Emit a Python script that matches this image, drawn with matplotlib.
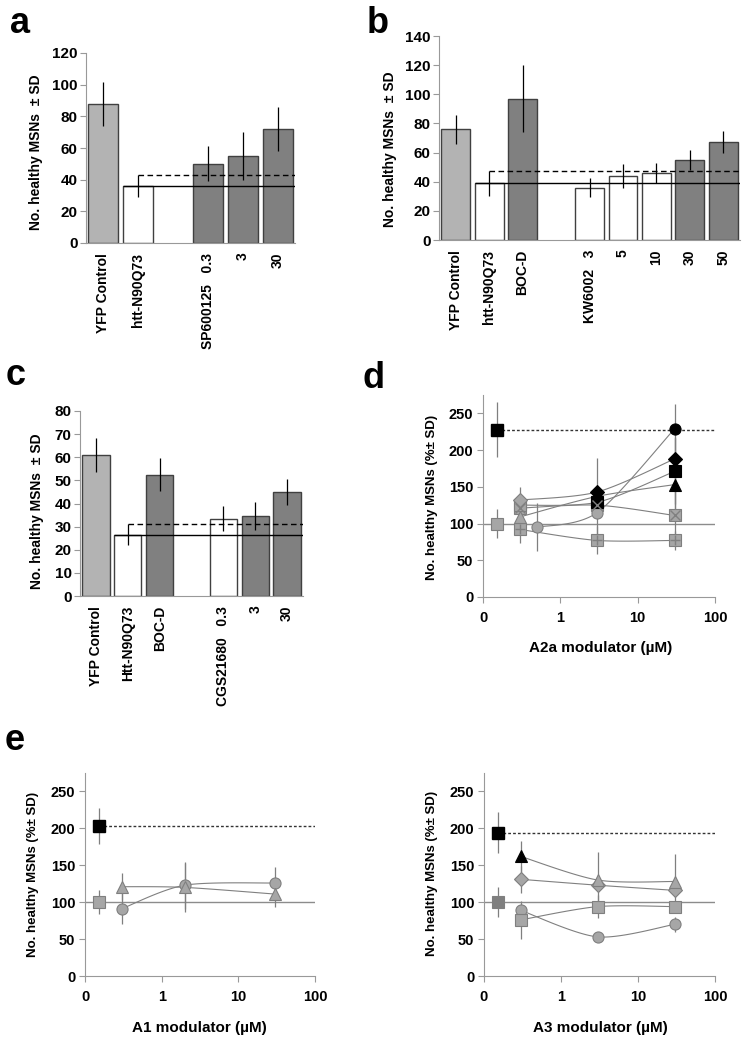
import numpy as np
import matplotlib
matplotlib.use("Agg")
import matplotlib.pyplot as plt
from matplotlib.ticker import NullLocator

plt.rcParams['font.family'] = ['Liberation Sans', 'DejaVu Sans']
plt.rcParams['font.weight'] = 'bold'

# ---------------- data ----------------
# panel a
labels_a = ["YFP Control", "htt-N90Q73", "", "SP600125   0.3", "3", "30"]
means_a = [88, 36, np.nan, 50, 55, 72]
sd_a = [14, 7, np.nan, 11, 15, 14]
fill_a = ["light", "white", "", "dark", "dark", "dark"]

# panel b
labels_b = ["YFP Control", "htt-N90Q73", "BOC-D", "", "KW6002   3", "5", "10", "30", "50"]
means_b = [76, 39, 97, np.nan, 36, 44, 46, 55, 67]
sd_b = [10, 8.5, 23, np.nan, 6.5, 8, 7, 7, 7.5]
fill_b = ["light", "white", "dark", "", "white", "white", "white", "dark", "dark"]

# panel c
labels_c = ["YFP Control", "Htt-N90Q73", "BOC-D", "", "CGS21680   0.3", "3", "30"]
means_c = [61, 26.5, 52.5, np.nan, 33.5, 34.5, 45]
sd_c = [7.5, 4.5, 7, np.nan, 5.5, 6, 5.5]
fill_c = ["light", "white", "dark", "", "white", "dark", "dark"]

# panel d (A2a), % of htt control
ctrl_x = 0.15
d_ctrl, d_ctrl_sd = 100, 20
d_pos, d_pos_sd = 228, 38
d_conc = [0.3, 3, 30]
d_circle_conc = [0.5, 3, 30]
d_diamond = [132, 143, 188]
d_diamond_sd = [18, 0, 30]
d_square = [125, 129, 171]
d_square_sd = [0, 60, 45]
d_triangle = [109, 137, 153]
d_triangle_sd = [0, 0, 40]
d_circle = [95, 115, 229]
d_circle_sd = [33, 0, 34]
d_cross = [121, 125, 111]
d_cross_sd = [0, 0, 40]
d_plus = [92, 77, 77]
d_plus_sd = [18, 19, 13]

# panel e, A1
e1_ctrl, e1_ctrl_sd = 100, 16
e1_pos, e1_pos_sd = 203, 24
e1_conc = [0.3, 2, 30]
e1_triangle = [121, 120, 111]
e1_triangle_sd = [18, 33, 17]
e1_circle = [91, 123, 126]
e1_circle_sd = [21, 32, 21]

# panel e, A3
e3_ctrl, e3_ctrl_sd = 100, 20
e3_pos, e3_pos_sd = 194, 28
e3_conc = [0.3, 3, 30]
e3_triangle = [162, 130, 128]
e3_triangle_sd = [21, 38, 37]
e3_diamond = [131, 123, 116]
e3_diamond_sd = [18, 0, 0]
e3_square = [76, 94, 94]
e3_square_sd = [26, 16, 0]
e3_circle = [89, 53, 70]
e3_circle_sd = [0, 0, 10]

W, H = 743, 1050
fig = plt.figure(figsize=(W / 100, H / 100), dpi=100)

def px(x, y):
    return x / W, 1 - y / H

def rect(l, t, r, b):
    return [l / W, 1 - b / H, (r - l) / W, (b - t) / H]

SPINE = '#999999'
GRAY = '#a6a6a6'
GEDGE = '#7f7f7f'
fill_colors = {"light": '#b3b3b3', "white": 'white', "dark": '#808080'}


def bar_panel(r, labels, means, sds, fills, ymax, ystep, ref=1):
    ax = fig.add_axes(r)
    x = np.arange(len(labels))
    means = np.asarray(means, float)
    sds = np.asarray(sds, float)
    m = ~np.isnan(means)
    ax.bar(x[m], means[m], width=0.86, color=[fill_colors[f] for f, k in zip(fills, m) if k],
           edgecolor='#404040', linewidth=1, zorder=2)
    ax.vlines(x[m], means[m] - sds[m], means[m] + sds[m], color='black', lw=0.9, zorder=3)
    right = len(labels) - 0.5
    ax.hlines(means[ref], x[ref] - 0.43, right, color='black', lw=1, zorder=4)
    ax.hlines(means[ref] + sds[ref], x[ref], right, color='black', lw=1,
              linestyles=(0, (4, 2.5)), zorder=4)
    ax.set_xlim(-0.5, right)
    ax.set_ylim(0, ymax)
    ax.set_yticks(np.arange(0, ymax + 1, ystep))
    ax.set_xticks(x, labels, rotation=90, ha='center', va='top', fontsize=10)
    ax.tick_params(axis='x', length=0, pad=7)
    ax.tick_params(axis='y', length=4, color=SPINE, pad=2, labelsize=11)
    for s in ['top', 'right']:
        ax.spines[s].set_visible(False)
    for s in ['left', 'bottom']:
        ax.spines[s].set_color(SPINE)
    return ax


def smooth(xs, ys, n=40, k=1 / 7):
    pts = np.column_stack([np.log10(xs), np.asarray(ys, float)])
    out = []
    t = np.linspace(0, 1, n)[:, None]
    for i in range(len(pts) - 1):
        p0 = pts[max(i - 1, 0)]
        p1 = pts[i]
        p2 = pts[i + 1]
        p3 = pts[min(i + 2, len(pts) - 1)]
        c1 = p1 + (p2 - p0) * k
        c2 = p2 - (p3 - p1) * k
        out.append((1 - t) ** 3 * p1 + 3 * (1 - t) ** 2 * t * c1
                   + 3 * (1 - t) * t ** 2 * c2 + t ** 3 * p2)
    seg = np.vstack(out)
    return 10 ** seg[:, 0], seg[:, 1]


def dose_axes(r):
    ax = fig.add_axes(r)
    ax.set_xscale('log')
    ax.set_xlim(0.1, 100)
    ax.set_ylim(0, 275)
    ax.set_xticks([0.1, 1, 10, 100], ["0", "1", "10", "100"])
    ax.xaxis.set_minor_locator(NullLocator())
    ax.set_yticks(np.arange(0, 251, 50))
    ax.tick_params(length=4, color=SPINE, labelsize=10.5)
    ax.tick_params(axis='x', pad=6)
    ax.tick_params(axis='y', pad=3)
    for s in ['top', 'right']:
        ax.spines[s].set_visible(False)
    for s in ['left', 'bottom']:
        ax.spines[s].set_color(SPINE)
    return ax


def controls(ax, ctrl, ctrl_sd, pos, pos_sd, ctrl_color=GRAY):
    ax.axhline(ctrl, color='#8c8c8c', lw=1, zorder=1)
    ax.hlines(pos, ctrl_x, 100, color='#333333', lw=1, linestyles=(0, (2, 1.5)), zorder=1)
    ax.vlines([ctrl_x, ctrl_x], [ctrl - ctrl_sd, pos - pos_sd], [ctrl + ctrl_sd, pos + pos_sd],
              color=GEDGE, lw=0.9, zorder=2)
    ax.plot([ctrl_x], [ctrl], 's', ms=8, mfc=ctrl_color, mec=GEDGE, mew=0.8, zorder=5)
    ax.plot([ctrl_x], [pos], 's', ms=8, mfc='black', mec='black', zorder=5)


def series(ax, xs, ys, sds, marker, black=(0, 0, 0), ms=8, overlay=None):
    sx, sy = smooth(xs, ys)
    ax.plot(sx, sy, color='#808080', lw=0.8, zorder=3)
    for xv, yv, sv, b in zip(xs, ys, sds, black):
        if sv > 0:
            ax.vlines(xv, yv - sv, yv + sv, color=GEDGE, lw=0.9, zorder=2)
        fc = 'black' if b else GRAY
        ec = 'black' if b else GEDGE
        ax.plot([xv], [yv], marker, ms=ms, mfc=fc, mec=ec, mew=0.8, zorder=4)
        if overlay:
            ax.plot([xv], [yv], overlay, ms=ms - 1, mec='#808080', mew=1.0, zorder=4.5)


# ---------------- bar panels ----------------
bar_panel(rect(86, 53, 295, 243), labels_a, means_a, sd_a, fill_a, 120, 20)
bar_panel(rect(439, 36, 740, 240), labels_b, means_b, sd_b, fill_b, 140, 20)
bar_panel(rect(80, 411, 303, 596), labels_c, means_c, sd_c, fill_c, 80, 10)

ylab_bar = "No. healthy MSNs  \u00b1 SD"
fig.text(*px(36, 152), ylab_bar, rotation=90, ha='center', va='center', fontsize=10)
fig.text(*px(390, 149), ylab_bar, rotation=90, ha='center', va='center', fontsize=10)
fig.text(*px(37, 511), ylab_bar, rotation=90, ha='center', va='center', fontsize=10)

# ---------------- panel d ----------------
ax_d = dose_axes(rect(483, 395, 715, 597))
controls(ax_d, d_ctrl, d_ctrl_sd, d_pos, d_pos_sd)
series(ax_d, d_conc, d_plus, d_plus_sd, 's', overlay='+')
series(ax_d, d_conc, d_cross, d_cross_sd, 's', overlay='x')
series(ax_d, d_circle_conc, d_circle, d_circle_sd, 'o', black=(0, 0, 1))
series(ax_d, d_conc, d_triangle, d_triangle_sd, '^', black=(0, 1, 1))
series(ax_d, d_conc, d_square, d_square_sd, 's', black=(0, 1, 1))
series(ax_d, d_conc, d_diamond, d_diamond_sd, 'D', black=(0, 1, 1), ms=7)

# ---------------- panel e ----------------
ax_e1 = dose_axes(rect(85, 773, 315, 976))
controls(ax_e1, e1_ctrl, e1_ctrl_sd, e1_pos, e1_pos_sd)
series(ax_e1, e1_conc, e1_circle, e1_circle_sd, 'o')
series(ax_e1, e1_conc, e1_triangle, e1_triangle_sd, '^')

ax_e3 = dose_axes(rect(484, 773, 715, 976))
controls(ax_e3, e3_ctrl, e3_ctrl_sd, e3_pos, e3_pos_sd, ctrl_color='#7f7f7f')
series(ax_e3, e3_conc, e3_circle, e3_circle_sd, 'o')
series(ax_e3, e3_conc, e3_square, e3_square_sd, 's')
series(ax_e3, e3_conc, e3_diamond, e3_diamond_sd, 'D', ms=7)
series(ax_e3, e3_conc, e3_triangle, e3_triangle_sd, '^', black=(1, 0, 0))

ylab_pct = "No. healthy MSNs (%\u00b1 SD)"
for xx, yy in [(432, 497), (33, 874), (432, 873)]:
    fig.text(*px(xx, yy), ylab_pct, rotation=90, ha='center', va='center', fontsize=9.5)
fig.text(*px(601, 648), "A2a modulator (\u00b5M)", ha='center', va='center', fontsize=11)
fig.text(*px(199, 1028), "A1 modulator (\u00b5M)", ha='center', va='center', fontsize=11)
fig.text(*px(600, 1028), "A3 modulator (\u00b5M)", ha='center', va='center', fontsize=11)

# panel letters
for letter, xx, yy in [("a", 10, 33), ("b", 367, 33), ("c", 6, 385), ("d", 362, 388), ("e", 5, 750)]:
    fig.text(*px(xx, yy), letter, ha='left', va='baseline', fontsize=26)

fig.savefig("out.png", dpi=100)
